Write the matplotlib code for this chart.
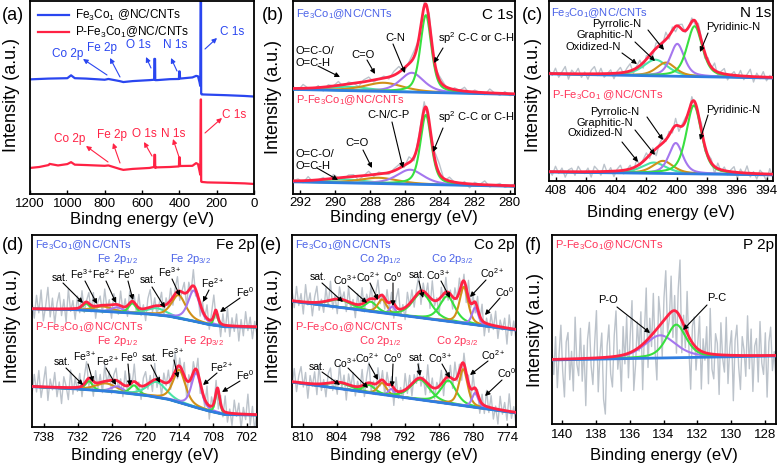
import numpy as np
import matplotlib
matplotlib.use("Agg")
import matplotlib.pyplot as plt

plt.rcParams['font.family'] = ['Liberation Sans', 'DejaVu Sans']
plt.rcParams['mathtext.fontset'] = 'custom'
plt.rcParams['mathtext.rm'] = 'Liberation Sans'
plt.rcParams['mathtext.it'] = 'Liberation Sans:italic'
plt.rcParams['mathtext.bf'] = 'Liberation Sans:bold'

# ---------- data ----------
# (a) survey
survey_E_fe = [1200, 1100, 1000, 980, 960, 900, 800, 780, 720, 700, 650, 560, 535, 534, 530, 529,
               520, 450, 402, 401, 398, 396, 330, 310, 300, 292, 288, 285, 284, 283, 280, 250, 150, 50, 0]
survey_I_fe = [0.594, 0.598, 0.600, 0.615, 0.600, 0.598, 0.592, 0.596, 0.585, 0.580, 0.585, 0.590,
               0.592, 0.700, 0.700, 0.590, 0.590, 0.595, 0.596, 0.635, 0.635, 0.598, 0.604, 0.612,
               0.610, 0.580, 0.560, 1.200, 1.200, 0.520, 0.516, 0.515, 0.512, 0.508, 0.505]
survey_E_p = [1200, 1150, 1100, 1095, 1050, 1000, 980, 960, 900, 800, 780, 720, 700, 650, 560, 535,
              534, 530, 529, 520, 450, 402, 401, 398, 396, 330, 310, 300, 292, 288, 285, 284, 283,
              280, 250, 150, 50, 0]
survey_I_p = [0.135, 0.140, 0.150, 0.156, 0.148, 0.155, 0.165, 0.152, 0.150, 0.146, 0.148, 0.130,
              0.125, 0.130, 0.135, 0.140, 0.203, 0.203, 0.135, 0.138, 0.140, 0.143, 0.190, 0.190,
              0.145, 0.146, 0.160, 0.155, 0.120, 0.100, 0.490, 0.490, 0.065, 0.0625, 0.060, 0.058,
              0.055, 0.052]

# (b) C 1s : components O=C-O, C=O, C-N, sp2
c1s_base_E = [292.4, 279.7]
c1s_base_top = [0.542, 0.516]
c1s_base_bot = [0.063, 0.040]
c1s_center_top = [289.2, 287.2, 285.6, 284.8]
c1s_height_top = [0.020, 0.045, 0.100, 0.400]
c1s_fwhm_top = [3.0, 2.6, 1.6, 0.75]
c1s_center_bot = [289.5, 287.5, 285.7, 284.8]
c1s_height_bot = [0.018, 0.030, 0.075, 0.360]
c1s_fwhm_bot = [3.0, 2.6, 1.8, 0.75]
c1s_noise_top = [1, -1, 2, 0, -1, 1, -2, 1, 0, 2, -1, 1, 0, -2, 1, 2, -1, 0, 1, -1, 2, 3, -2, 1, 3,
                 -1, 2, 4, -3, 2, 1, -2, 1, 0, 2, -1, 1, 0, -1, 2, 0, -1, 1, -1, 0]
c1s_noise_bot = [0, 1, -1, 2, -1, 0, 1, -2, 2, 0, -1, 1, 1, -2, 0, 2, -1, 1, 0, -1, 1, 2, -1, 3, -2,
                 2, 4, -2, 3, 5, -1, 2, 0, -1, 1, -2, 1, 0, 2, -1, 0, 1, -1, 0, 1]

# (c) N 1s : components Oxidized, Graphitic, Pyrrolic, Pyridinic
n1s_base_E = [408.46, 393.6]
n1s_base_top = [0.595, 0.572]
n1s_base_bot = [0.050, 0.034]
n1s_center_top = [401.4, 400.7, 399.95, 398.8]
n1s_height_top = [0.090, 0.075, 0.180, 0.280]
n1s_fwhm_top = [1.9, 1.5, 1.1, 1.2]
n1s_center_bot = [401.5, 400.9, 400.05, 398.85]
n1s_height_bot = [0.060, 0.070, 0.170, 0.380]
n1s_fwhm_bot = [1.9, 1.6, 1.1, 1.2]
n1s_noise_top = [2, -1, 3, -2, 1, 4, -3, 2, 0, 3, -2, 1, -3, 2, 4, -1, 3, -2, 0, 2, -3, 1, 3, -1, 2,
                 4, -2, 1, 3, -3, 2, 0, -2, 3, 1, -1, 4, -2, 2, -3, 1, 3, -1, 0, 2, -2, 3, 1, -3, 2,
                 -1, 4, -2, 1, 3, -3, 0, 2, -1, 3, -2, 1, 4, -3, 2, -1, 3, -2, 1, 0]
n1s_noise_bot = [1, -2, 3, -1, 2, -3, 1, 2, -2, 3, 0, -1, 2, -3, 3, 1, -2, 4, -1, 2, -3, 1, 3, -2, 0,
                 2, -3, 4, -1, 1, 3, -2, 2, -4, 1, 3, -1, 2, -2, 4, -3, 1, 2, -1, 3, -2, 0, 4, -3, 1,
                 2, -4, 3, -1, 2, -2, 1, 3, -3, 2, -1, 4, -2, 1, -3, 2, 0, -4, 3, -2]

# (d) Fe 2p : sat, Fe3+, Fe2+, Fe0 (2p1/2) then sat, Fe3+, Fe2+, Fe0 (2p3/2)
fe_base_E = [740.1, 733, 726, 720, 716, 712, 709, 706, 700.2]
fe_base_top = [0.615, 0.612, 0.600, 0.590, 0.578, 0.555, 0.535, 0.522, 0.520]
fe_base_bot = [0.210, 0.200, 0.185, 0.165, 0.145, 0.110, 0.085, 0.065, 0.062]
fe_center_top = [730.5, 727.5, 725.0, 722.3, 718.0, 714.1, 711.4, 707.5]
fe_height_top = [0.035, 0.025, 0.025, 0.050, 0.035, 0.120, 0.160, 0.070]
fe_fwhm_top = [1.5, 4.0, 2.5, 1.6, 4.0, 3.0, 2.4, 0.8]
fe_center_bot = [730.0, 727.0, 725.0, 722.0, 718.0, 714.0, 711.0, 707.2]
fe_height_bot = [0.045, 0.040, 0.030, 0.045, 0.080, 0.170, 0.180, 0.120]
fe_fwhm_bot = [1.5, 4.5, 2.5, 1.8, 4.0, 2.6, 2.0, 0.9]
fe_noise_top = [5, -7, 10, -3, 14, -9, 2, 16, -6, 8, -11, 4, 12, -5, 7, -10, 15, -2, 6, -8, 9, -4, 11,
                -7, 1, 8, -5, 10, -9, 3, 7, -6, 12, -3, 4, -10, 8, 2, -7, 11, -4, 6, -8, 9, -1, 5,
                -6, 10, -5, 3, -9, 7, 13, -4, 6, -7, 2, 10, -8, 5, -3, 9, -6, 4, 11, -7, 1, 8, -10,
                6, -4, 12, -5, 2, -9, 7, -3, 10, -7, 5, 15, -6, 3, -10, 8, -5, 13, -8, 6, -4, 9, -11,
                5, -7, 11, -3, 7, -9, 4, -6]
fe_noise_bot = [-6, 9, -4, 12, -8, 3, 15, -10, 6, -2, 11, -7, 4, -12, 8, 1, -9, 13, -5, 7, -3, 10, -8,
                5, 14, -6, 2, -11, 9, -4, 6, -8, 12, -2, 7, -10, 4, 9, -6, 3, -9, 11, -5, 8, -3, 13,
                -7, 2, -10, 6, 10, -4, 5, -8, 12, -6, 3, -11, 7, -2, 9, -7, 4, 14, -9, 6, -3, 10,
                -12, 5, -5, 8, -4, 11, -8, 2, -6, 13, -10, 7, -3, 9, -14, 6, -5, 12, -7, 3, -9, 10,
                -2, 8, -11, 5, -4, 15, -8, 6, -12, 4]

# (e) Co 2p : sat, Co3+, Co2+, Co0 (2p1/2) then sat, Co3+, Co2+, Co0 (2p3/2)
co_base_E = [811.9, 772.4]
co_base_top = [0.655, 0.505]
co_base_bot = [0.234, 0.073]
co_center_top = [803.5, 798.0, 796.0, 794.2, 789.0, 784.5, 781.6, 779.6]
co_height_top = [0.040, 0.050, 0.070, 0.040, 0.130, 0.130, 0.190, 0.090]
co_fwhm_top = [5.0, 2.5, 1.8, 1.2, 4.0, 3.2, 1.8, 1.3]
co_center_bot = [803.5, 798.3, 796.0, 794.4, 789.3, 784.3, 781.7, 779.6]
co_height_bot = [0.030, 0.040, 0.060, 0.035, 0.105, 0.120, 0.190, 0.075]
co_fwhm_bot = [5.0, 2.5, 1.8, 1.2, 4.0, 3.2, 1.8, 1.3]
co_noise_top = [8, -5, 11, -3, 6, -9, 13, -2, 7, -10, 4, 12, -6, 2, -8, 10, -4, 14, -7, 3, -11, 9, -1,
                6, -8, 11, -5, 3, -10, 8, -3, 12, -7, 5, -2, 10, -9, 4, 13, -6, 1, -8, 9, -4, 7, -11,
                6, 15, -5, 3, -9, 10, -2, 8, -7, 4, 12, -10, 6, -3, 9, -8, 14, -4, 2, -12, 7, -5, 11,
                -6, 3, -9, 8, -2, 10, -7, 5, -11, 13, -3, 6, -8, 9, -4, 12, -10, 4, -6, 8, -3, 11,
                -9, 5, -2, 7, -12, 10, -5, 6, -8]
co_noise_bot = [-4, 10, -7, 5, 12, -3, 8, -11, 6, -2, 9, -8, 14, -5, 3, -10, 7, 11, -6, 2, -9, 13, -4,
                6, -12, 8, -1, 10, -7, 4, -3, 12, -9, 5, 15, -6, 2, -8, 11, -4, 7, -10, 9, -2, 6,
                -13, 10, -5, 3, -7, 12, -4, 8, -9, 5, -3, 11, -6, 2, -10, 14, -5, 7, -8, 4, -2, 10,
                -11, 6, -4, 9, -7, 13, -3, 5, -12, 8, -1, 6, -9, 11, -5, 3, -10, 7, -6, 12, -4, 9,
                -8, 2, -11, 10, -3, 6, -7, 13, -5, 4, -9]

# (f) P 2p : P-O, P-C
p_base_E = [140.6, 127.35]
p_base = [0.339, 0.360]
p_center = [134.2, 133.25]
p_height = [0.120, 0.175]
p_fwhm = [2.2, 1.4]
p_noise = [5, -8, 12, -15, 3, 18, -6, -20, 9, 14, -11, 4, -17, 22, -3, -9, 16, -12, 7, -25, 10, 19,
           -4, -14, 8, 25, -18, 2, 13, -22, -30, 6, 17, -9, -16, 11, 24, -7, 3, -19, 15, -5, 20, -13,
           9, 27, -21, -8, 14, -2, 18, -24, 6, 28, -15, 10, -6, 21, -11, -27, 16, 4, -18, 12, 25, -9,
           -3, 19, -14, 8, -22, 13, 30, -17, 5, -10, 22, -6, -26, 9, 15, -12, 3, 18, -20, 7, -4, 14,
           -16, 24, -8, -13, 11, 6, -21, 17, -2, -9, 20, -15, 4, 13, -24, 8, 16, -6, -18, 10, 3, -11,
           21, -7, 14, -19, 5, 9, -14, 18, -4, -10, 12, -22, 7, 15, -8, 2, -13]

# tick labels
ticks_a = [1200, 1000, 800, 600, 400, 200, 0]
ticks_b = [292, 290, 288, 286, 284, 282, 280]
ticks_c = [408, 406, 404, 402, 400, 398, 396, 394]
ticks_d = [738, 732, 726, 720, 714, 708, 702]
ticks_e = [810, 804, 798, 792, 786, 780, 774]
ticks_f = [140, 138, 136, 134, 132, 130, 128]

# ---------- styles ----------
RED = '#ff2244'
SURV_BLUE = '#2a46f0'
LBL_BLUE = '#4a62e8'
LBL_RED = '#ff3358'
GREEN = '#38e040'
PURPLE = '#a577ee'
ORANGE = '#d09018'
CYAN = '#4ae3a6'
BASE = '#2f7de0'
GRAY = '#bcc3cb'
NAME_SIZE = 8
ION_SIZE = 7.5

FE = r'Fe$_3$Co$_1$@NC/CNTs'
PFE = r'P-Fe$_3$Co$_1$@NC/CNTs'

W, H = 780, 465
fig = plt.figure(figsize=(7.8, 4.65), dpi=100)


def add_ax(rect):
    L, T, R, B = rect
    return fig.add_axes([L / W, 1 - B / H, (R - L) / W, (B - T) / H])


def frac(rect, p):
    L, T, R, B = rect
    return ((p[0] - L) / (R - L), (B - p[1]) / (B - T))


def pv(x, c, h, w):
    u = (x - c) / w
    return h * (0.5 / (1 + 4 * u ** 2) + 0.5 * np.exp(-4 * np.log(2) * u ** 2))


def spectrum(ax, xlim, base_E, base_I, centers, heights, fwhms, colors, noise, noise_scale=0.01):
    bE = np.array(base_E)[::-1]
    bI = np.array(base_I)[::-1]
    xf = np.linspace(xlim[0], xlim[1], 900)
    bf = np.interp(xf, bE, bI)
    comps = [pv(xf, c, h, w) for c, h, w in zip(centers, heights, fwhms)]
    xr = np.linspace(xlim[0], xlim[1], len(noise))
    raw = np.interp(xr, bE, bI) + np.array(noise) * noise_scale
    for c, h, w in zip(centers, heights, fwhms):
        raw = raw + pv(xr, c, h, w)
    ax.plot(xr, raw, color=GRAY, lw=1.0, zorder=1)
    for comp, col in zip(comps, colors):
        ax.plot(xf, bf + comp, color=col, lw=1.5, zorder=2)
    ax.plot(xf, bf, color=BASE, lw=2.0, zorder=3)
    ax.plot(xf, bf + np.sum(comps, axis=0), color=RED, lw=2.0, zorder=4)


def style(ax, rect, xlim, ticks, xlabel, xlab_y, ylab_x, ylab_y, pad):
    ax.set_xlim(*xlim)
    ax.set_ylim(0, 1)
    ax.set_xticks(ticks)
    ax.set_yticks([])
    ax.tick_params(axis='x', direction='in', length=3, width=1, labelsize=9.5, pad=pad)
    for s in ax.spines.values():
        s.set_linewidth(1.3)
    ax.set_xlabel(xlabel, fontsize=12, va='center')
    ax.xaxis.set_label_coords(0.5, frac(rect, (0, xlab_y))[1])
    ax.set_ylabel('Intensity (a.u.)', fontsize=13, va='center')
    ax.yaxis.set_label_coords(frac(rect, (ylab_x, 0))[0], frac(rect, (0, ylab_y))[1])


def txt(ax, rect, s, p, color='k', size=8, ha='center'):
    ax.text(*frac(rect, p), s, transform=ax.transAxes, color=color, fontsize=size,
            ha=ha, va='center', zorder=6)


def arrow(ax, rect, tail, head, color='k'):
    ax.annotate('', xy=frac(rect, head), xytext=frac(rect, tail), xycoords='axes fraction',
                textcoords='axes fraction', zorder=6,
                arrowprops=dict(arrowstyle='-|>', color=color, lw=0.8, mutation_scale=7,
                                shrinkA=0, shrinkB=0))


def notes(ax, rect, items, color='k', size=8):
    for s, p, tail, head in items:
        txt(ax, rect, s, p, color=color, size=size)
        arrow(ax, rect, tail, head, color=color)


def panel_label(s, p):
    fig.text(p[0] / W, 1 - p[1] / H, s, fontsize=13, ha='center', va='center')


# ---------- (a) survey ----------
ra = (30, 1, 254, 194)
ax = add_ax(ra)
ax.plot(survey_E_fe, survey_I_fe, color=SURV_BLUE, lw=1.6, label=r'Fe$_3$Co$_1$ @NC/CNTs')
ax.plot(survey_E_p, survey_I_p, color=RED, lw=1.6, label=PFE)
style(ax, ra, (1200, 0), ticks_a, 'Bindng energy (eV)', 219, 12, 95, 3)
ax.legend(loc='upper left', bbox_to_anchor=(-0.01, 1.02), frameon=False, fontsize=8.5,
          handlelength=2.6, labelspacing=0.2, handletextpad=0.5)
notes(ax, ra, [
    ('Co 2p', (68, 54), (107, 75), (83, 59)),
    ('Fe 2p', (102, 48), (120, 77), (110, 58)),
    ('O 1s', (138, 45), (151, 68), (146, 57)),
    ('N 1s', (175, 45), (177, 71), (171, 58)),
    ('C 1s', (232, 32), (205, 49), (217, 38)),
], color=SURV_BLUE, size=8.5)
notes(ax, ra, [
    ('Co 2p', (70, 139), (108, 162), (86, 146)),
    ('Fe 2p', (112, 135), (120, 163), (113, 143)),
    ('O 1s', (144, 134), (152, 156), (144, 142)),
    ('N 1s', (173, 134), (179, 157), (173, 139)),
    ('C 1s', (234, 115), (205, 133), (222, 118)),
], color=RED, size=8.5)
panel_label('(a)', (13, 15))

# ---------- (b) C 1s ----------
rb = (293, 1, 515, 194)
ax = add_ax(rb)
xl = (292.4, 279.7)
cols_c = [CYAN, ORANGE, PURPLE, GREEN]
spectrum(ax, xl, c1s_base_E, c1s_base_top, c1s_center_top, c1s_height_top, c1s_fwhm_top,
         cols_c, c1s_noise_top)
spectrum(ax, xl, c1s_base_E, c1s_base_bot, c1s_center_bot, c1s_height_bot, c1s_fwhm_bot,
         cols_c, c1s_noise_bot)
style(ax, rb, xl, ticks_b, 'Binding energy (eV)', 217, 274, 97, 2)
txt(ax, rb, FE, (296, 14), color=LBL_BLUE, size=NAME_SIZE, ha='left')
txt(ax, rb, PFE, (296, 100), color=LBL_RED, size=NAME_SIZE, ha='left')
txt(ax, rb, 'C 1s', (513, 15), size=11, ha='right')
notes(ax, rb, [
    (r'sp$^2$ C-C or C-H', (476, 38), (443, 48), (434, 63)),
    ('C-N', (395, 38), (393, 44), (405, 73)),
    ('C=O', (363, 55), (367, 60), (375, 74)),
    ('C-N/C-P', (388, 115), (392, 122), (403, 168)),
    (r'sp$^2$ C-C or C-H', (476, 117), (443, 128), (433, 152)),
    ('C=O', (357, 143), (363, 150), (372, 168)),
])
txt(ax, rb, 'O=C-O/\nO=C-H', (296, 57), size=8, ha='left')
arrow(ax, rb, (318, 66), (340, 77))
txt(ax, rb, 'O=C-O/\nO=C-H', (296, 160), size=8, ha='left')
arrow(ax, rb, (317, 168), (338, 180))
panel_label('(b)', (273, 15))

# ---------- (c) N 1s ----------
rc = (549, 1, 773, 181)
ax = add_ax(rc)
xl = (408.46, 393.6)
cols_n = [CYAN, ORANGE, PURPLE, GREEN]
spectrum(ax, xl, n1s_base_E, n1s_base_top, n1s_center_top, n1s_height_top, n1s_fwhm_top,
         cols_n, n1s_noise_top)
spectrum(ax, xl, n1s_base_E, n1s_base_bot, n1s_center_bot, n1s_height_bot, n1s_fwhm_bot,
         cols_n, n1s_noise_bot)
style(ax, rc, xl, ticks_c, 'Binding energy (eV)', 213, 533, 95, 3)
txt(ax, rc, FE, (551, 13), color=LBL_BLUE, size=NAME_SIZE, ha='left')
txt(ax, rc, r'P-Fe$_3$Co$_1$ @NC/CNTs', (552, 95), color=LBL_RED, size=NAME_SIZE, ha='left')
txt(ax, rc, 'N 1s', (771, 13), size=11, ha='right')
notes(ax, rc, [
    ('Pyridinic-N', (733, 27), (708, 33), (700, 52)),
    ('Pyrrolic-N', (617, 24), (648, 30), (664, 50)),
    ('Graphitic-N', (605, 35), (635, 42), (655, 61)),
    ('Oxidized-N', (593, 47), (622, 53), (637, 64)),
    ('Pyridinic-N', (733, 110), (708, 115), (700, 140)),
    ('Pyrrolic-N', (615, 112), (647, 117), (663, 140)),
    ('Graphitic-N', (605, 123), (635, 130), (655, 155)),
    ('Oxidized-N', (595, 133), (622, 142), (638, 162)),
])
panel_label('(c)', (532, 15))

# ---------- (d) Fe 2p ----------
rd = (32, 235, 257, 427)
ax = add_ax(rd)
xl = (740.1, 700.2)
cols_fe = [GREEN, ORANGE, PURPLE, GREEN, CYAN, ORANGE, PURPLE, GREEN]
spectrum(ax, xl, fe_base_E, fe_base_top, fe_center_top, fe_height_top, fe_fwhm_top,
         cols_fe, fe_noise_top, 0.007)
spectrum(ax, xl, fe_base_E, fe_base_bot, fe_center_bot, fe_height_bot, fe_fwhm_bot,
         cols_fe, fe_noise_bot, 0.007)
style(ax, rd, xl, ticks_d, 'Binding energy (eV)', 455, 13, 326, 3.5)
txt(ax, rd, FE, (35, 245), color=LBL_BLUE, size=NAME_SIZE, ha='left')
txt(ax, rd, PFE, (35, 327), color=LBL_RED, size=NAME_SIZE, ha='left')
txt(ax, rd, 'Fe 2p', (255, 245), size=11, ha='right')
txt(ax, rd, r'Fe 2p$_{1/2}$', (117, 259), color=LBL_BLUE, size=NAME_SIZE)
txt(ax, rd, r'Fe 2p$_{3/2}$', (190, 259), color=LBL_BLUE, size=NAME_SIZE)
txt(ax, rd, r'Fe 2p$_{1/2}$', (117, 341), color=LBL_RED, size=NAME_SIZE)
txt(ax, rd, r'Fe 2p$_{3/2}$', (203, 341), color=LBL_RED, size=NAME_SIZE)
notes(ax, rd, [
    ('sat.', (60, 278), (63, 283), (83, 303)),
    (r'Fe$^{3+}$', (82, 274), (85, 281), (97, 304)),
    (r'Fe$^{2+}$', (104, 274), (106, 281), (116, 303)),
    (r'Fe$^{0}$', (126, 274), (128, 281), (133, 300)),
    ('sat.', (148, 280), (152, 287), (165, 308)),
    (r'Fe$^{3+}$', (170, 272), (172, 279), (180, 296)),
    (r'Fe$^{2+}$', (213, 283), (209, 290), (203, 302)),
    (r'Fe$^{0}$', (245, 292), (240, 298), (220, 312)),
    ('sat.', (62, 362), (66, 368), (83, 385)),
    (r'Fe$^{3+}$', (85, 356), (88, 364), (93, 382)),
    (r'Fe$^{2+}$', (108, 361), (106, 368), (116, 385)),
    (r'Fe$^{0}$', (129, 357), (128, 364), (130, 386)),
    ('sat.', (150, 358), (151, 365), (160, 383)),
    (r'Fe$^{3+}$', (173, 353), (174, 360), (178, 378)),
    (r'Fe$^{2+}$', (222, 367), (217, 373), (203, 385)),
    (r'Fe$^{0}$', (245, 375), (240, 381), (222, 392)),
], size=ION_SIZE)
panel_label('(d)', (13, 245))

# ---------- (e) Co 2p ----------
re_ = (292, 235, 516, 427)
ax = add_ax(re_)
xl = (811.9, 772.4)
cols_co = [GREEN, GREEN, ORANGE, PURPLE, GREEN, GREEN, ORANGE, PURPLE]
spectrum(ax, xl, co_base_E, co_base_top, co_center_top, co_height_top, co_fwhm_top,
         cols_co, co_noise_top, 0.007)
spectrum(ax, xl, co_base_E, co_base_bot, co_center_bot, co_height_bot, co_fwhm_bot,
         cols_co, co_noise_bot, 0.007)
style(ax, re_, xl, ticks_e, 'Binding energy (eV)', 455, 273, 326, 3.5)
txt(ax, re_, FE, (295, 245), color=LBL_BLUE, size=NAME_SIZE, ha='left')
txt(ax, re_, PFE, (295, 327), color=LBL_RED, size=NAME_SIZE, ha='left')
txt(ax, re_, 'Co 2p', (514, 245), size=11, ha='right')
txt(ax, re_, r'Co 2p$_{1/2}$', (380, 259), color=LBL_BLUE, size=NAME_SIZE)
txt(ax, re_, r'Co 2p$_{3/2}$', (452, 259), color=LBL_BLUE, size=NAME_SIZE)
txt(ax, re_, r'Co 2p$_{1/2}$', (380, 341), color=LBL_RED, size=NAME_SIZE)
txt(ax, re_, r'Co 2p$_{3/2}$', (457, 341), color=LBL_RED, size=NAME_SIZE)
notes(ax, re_, [
    ('sat.', (318, 277), (322, 283), (343, 302)),
    (r'Co$^{3+}$', (345, 280), (348, 286), (367, 303)),
    (r'Co$^{2+}$', (368, 277), (370, 283), (378, 300)),
    (r'Co$^{0}$', (393, 277), (393, 283), (393, 306)),
    ('sat.', (417, 275), (419, 281), (423, 298)),
    (r'Co$^{3+}$', (438, 275), (441, 281), (450, 298)),
    (r'Co$^{2+}$', (492, 273), (486, 280), (470, 297)),
    (r'Co$^{0}$', (505, 292), (500, 298), (485, 315)),
    ('sat.', (317, 367), (322, 372), (340, 385)),
    (r'Co$^{3+}$', (345, 363), (348, 368), (368, 388)),
    (r'Co$^{2+}$', (367, 358), (369, 364), (378, 380)),
    (r'Co$^{0}$', (393, 358), (393, 364), (392, 387)),
    ('sat.', (417, 358), (418, 364), (420, 376)),
    (r'Co$^{3+}$', (440, 358), (442, 364), (450, 378)),
    (r'Co$^{2+}$', (493, 355), (488, 361), (470, 375)),
    (r'Co$^{0}$', (507, 373), (502, 380), (485, 396)),
], size=ION_SIZE)
panel_label('(e)', (271, 245))

# ---------- (f) P 2p ----------
rf = (552, 235, 776, 424)
ax = add_ax(rf)
xl = (140.6, 127.35)
spectrum(ax, xl, p_base_E, p_base, p_center, p_height, p_fwhm, [PURPLE, GREEN], p_noise)
style(ax, rf, xl, ticks_f, 'Binding energy (eV)', 455, 535, 330, 3.5)
txt(ax, rf, PFE, (555, 245), color=LBL_RED, size=NAME_SIZE, ha='left')
txt(ax, rf, 'P 2p', (774, 245), size=11, ha='right')
notes(ax, rf, [
    ('P-O', (608, 300), (617, 307), (650, 333)),
    ('P-C', (717, 298), (707, 305), (683, 330)),
])
panel_label('(f)', (533, 245))

fig.savefig('out.png', dpi=100)
